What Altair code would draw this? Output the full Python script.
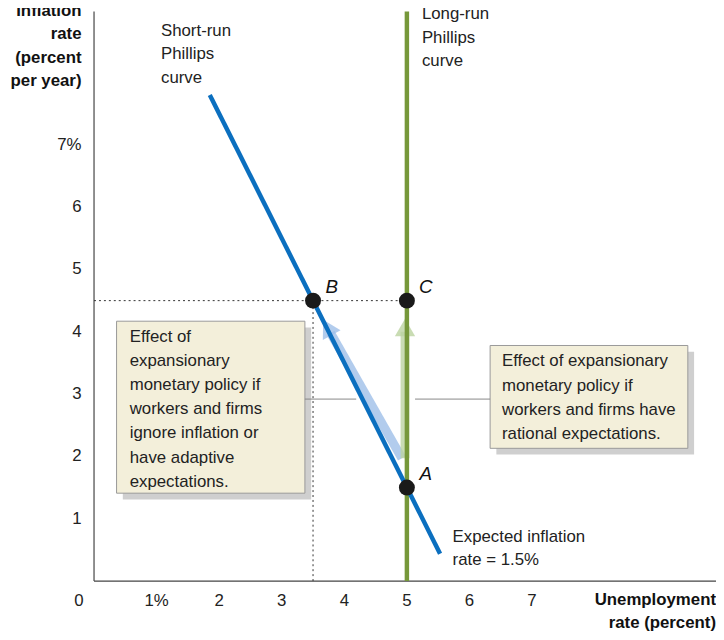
import altair as alt
import pandas as pd

# data
sr_x = [1.85, 5.53]
sr_y = [7.8, 0.44]
lr_x = 5
points_x = [3.5, 5.0, 5.0]
points_y = [4.5, 4.5, 1.5]
point_names = ["B", "C", "A"]
x_ticks = [1, 2, 3, 4, 5, 6, 7]
x_tick_labels = ["1%", "2", "3", "4", "5", "6", "7"]
y_ticks = [1, 2, 3, 4, 5, 6, 7]
y_tick_labels = ["1", "2", "3", "4", "5", "6", "7%"]

XMAX, YMAX = 9.94, 9.14
FONT = "Liberation Sans"
BLUE, GREEN = "#0b6fbf", "#76983a"

xs = alt.Scale(domain=[0, XMAX], nice=False, zero=False)
ys = alt.Scale(domain=[0, YMAX], nice=False, zero=False)
X = lambda f: alt.X(f, type="quantitative", scale=xs, axis=None)
Y = lambda f: alt.Y(f, type="quantitative", scale=ys, axis=None)

def seg(x1, y1, x2, y2):
    return pd.DataFrame({"x": [x1], "y": [y1], "x2": [x2], "y2": [y2]})

def rule(df, **kw):
    return alt.Chart(df).mark_rule(**kw).encode(X("x"), Y("y"), x2="x2", y2="y2")

def text(df, **kw):
    opts = dict(font=FONT, fontSize=17, lineHeight=24.5)
    opts.update(kw)
    return alt.Chart(df).mark_text(**opts).encode(X("x"), Y("y"), text="t")

def lab(x, y, t):
    return pd.DataFrame({"x": [x], "y": [y], "t": [t]})

layers = []

# axes
layers.append(rule(seg(0, 0, 0, YMAX), color="#444", strokeWidth=1.2))
layers.append(rule(seg(0, 0, XMAX, 0), color="#444", strokeWidth=1.2))
layers.append(text(pd.DataFrame({"x": x_ticks, "y": [-0.32] * 7, "t": x_tick_labels}),
                   align="center", baseline="middle", color="#222"))
layers.append(text(lab(-0.24, -0.32, "0"), align="center", baseline="middle", color="#222"))
layers.append(text(pd.DataFrame({"x": [-0.2] * 7, "y": y_ticks, "t": y_tick_labels}),
                   align="right", baseline="middle", color="#222"))
layers.append(text(lab(-0.2, 9.27, ["Inflation", "rate", "(percent", "per year)"]),
                   align="right", baseline="top", fontWeight="bold", lineHeight=23.5, color="#111"))
layers.append(text(lab(9.94, -0.18, ["Unemployment", "rate (percent)"]),
                   align="right", baseline="top", fontWeight="bold", lineHeight=23, color="#111"))

# boxes with shadow
boxes = pd.DataFrame({"x": [0.36, 6.33], "x2": [3.37, 9.49], "y": [4.17, 3.78], "y2": [1.41, 2.13]})
shadow = boxes.assign(x=boxes.x + 0.1, x2=boxes.x2 + 0.1, y=boxes.y - 0.1, y2=boxes.y2 - 0.1)
layers.append(alt.Chart(shadow).mark_rect(color="#cfcfcf").encode(X("x"), Y("y"), x2="x2", y2="y2"))
layers.append(alt.Chart(boxes).mark_rect(fill="#f3efda", stroke="#999", strokeWidth=1).encode(
    X("x"), Y("y"), x2="x2", y2="y2"))
layers.append(text(lab(0.57, 4.05, ["Effect of", "expansionary", "monetary policy if",
                                    "workers and firms", "ignore inflation or",
                                    "have adaptive", "expectations."]),
                   align="left", baseline="top", color="#222"))
layers.append(text(lab(6.52, 3.65, ["Effect of expansionary", "monetary policy if",
                                    "workers and firms have", "rational expectations."]),
                   align="left", baseline="top", color="#222"))

# connectors
layers.append(rule(seg(3.37, 2.92, 4.19, 2.92), color="#888", strokeWidth=1))
layers.append(rule(seg(5.13, 2.92, 6.33, 2.92), color="#888", strokeWidth=1))

# dotted guides
layers.append(rule(seg(0, 4.5, 5, 4.5), color="#333", strokeWidth=1, strokeDash=[2, 3]))
layers.append(rule(seg(3.5, 0, 3.5, 4.5), color="#333", strokeWidth=1, strokeDash=[2, 3]))

# translucent arrows
layers.append(rule(seg(4.92, 1.97, 3.78, 3.98), color="#9fbfe8", strokeWidth=9, opacity=0.8))
layers.append(rule(seg(4.97, 1.97, 4.97, 4.0), color="#bcd3a0", strokeWidth=9, opacity=0.8))
heads = pd.DataFrame({"x": [3.73, 4.97], "y": [4.07, 4.07], "a": [331, 0]})
layers.append(alt.Chart(heads).mark_point(shape="triangle-up", filled=True, size=420, opacity=0.8).encode(
    X("x"), Y("y"), angle=alt.Angle("a:Q", scale=None),
    color=alt.Color("a:N", scale=alt.Scale(domain=[331, 0], range=["#9fbfe8", "#bcd3a0"]), legend=None)))

# curves
layers.append(rule(seg(lr_x, 0, lr_x, YMAX), color=GREEN, strokeWidth=4.5))
layers.append(rule(seg(sr_x[0], sr_y[0], sr_x[1], sr_y[1]), color=BLUE, strokeWidth=4.5))

pts = pd.DataFrame({"x": points_x, "y": points_y, "t": point_names})
layers.append(alt.Chart(pts).mark_circle(color="#1a1a1a", size=260, opacity=1).encode(X("x"), Y("y")))
layers.append(text(pts.assign(x=pts.x + 0.3, y=pts.y + 0.21), align="center", baseline="middle",
                   fontStyle="italic", fontSize=19, color="#111"))

layers.append(text(lab(1.07, 8.95, ["Short-run", "Phillips", "curve"]), align="left",
                   baseline="top", lineHeight=23.5, color="#222"))
layers.append(text(lab(5.24, 9.22, ["Long-run", "Phillips", "curve"]), align="left",
                   baseline="top", lineHeight=23.5, color="#222"))
layers.append(text(lab(5.73, 0.84, ["Expected inflation", "rate = 1.5%"]), align="left",
                   baseline="top", lineHeight=24, color="#222"))

chart = alt.layer(*layers).properties(
    width=629, height=576,
    autosize=alt.AutoSizeParams(type="none"),
    padding={"left": 87, "top": 0, "right": 0, "bottom": 48},
).configure_view(stroke=None)

chart.save("out.html", embed_options={"renderer": "svg", "actions": False})
